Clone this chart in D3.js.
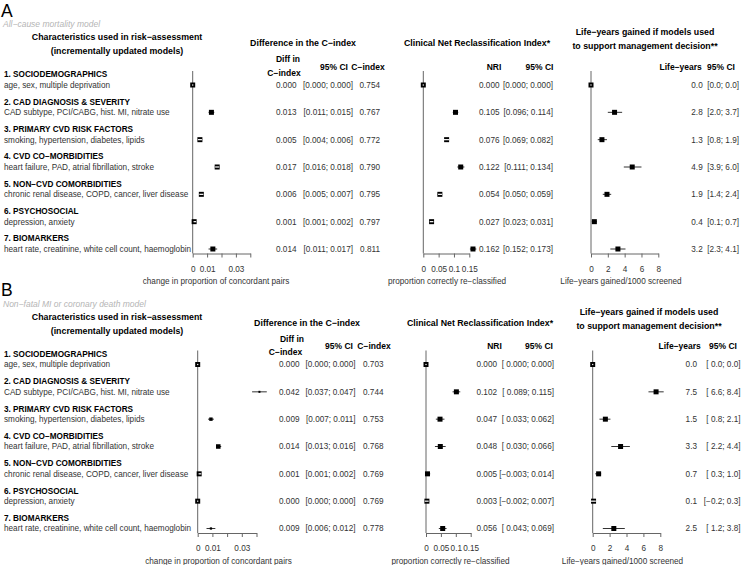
<!DOCTYPE html>
<html>
<head>
<meta charset="utf-8">
<script src="https://cdn.jsdelivr.net/npm/d3@7"></script>
<style>
  body { margin: 0; background: #fff; }
  svg text { font-family: "Liberation Sans", Arial, Helvetica, sans-serif; }
</style>
</head>
<body>
<div id="chart"></div>
<script>
// Rows: characteristic groups added to the model one at a time
const groups = ["1. SOCIODEMOGRAPHICS", "2. CAD DIAGNOSIS & SEVERITY", "3. PRIMARY CVD RISK FACTORS",
    "4. CVD CO−MORBIDITIES", "5. NON−CVD COMORBIDITIES", "6. PSYCHOSOCIAL", "7. BIOMARKERS"];
const details = ["age, sex, multiple deprivation", "CAD subtype, PCI/CABG, hist. MI, nitrate use",
    "smoking, hypertension, diabetes, lipids", "heart failure, PAD, atrial fibrillation, stroke",
    "chronic renal disease, COPD, cancer, liver disease", "depression, anxiety",
    "heart rate, creatinine, white cell count, haemoglobin"];

// Panel A - all-cause mortality
const cDiffA  = [0.000, 0.013, 0.005, 0.017, 0.006, 0.001, 0.014];
const cLowA   = [0.000, 0.011, 0.004, 0.016, 0.005, 0.001, 0.011];
const cHighA  = [0.000, 0.015, 0.006, 0.018, 0.007, 0.002, 0.017];
const cIndexA = [0.754, 0.767, 0.772, 0.790, 0.795, 0.797, 0.811];
const nriA     = [0.000, 0.105, 0.076, 0.122, 0.054, 0.027, 0.162];
const nriLowA  = [0.000, 0.096, 0.069, 0.111, 0.050, 0.023, 0.152];
const nriHighA = [0.000, 0.114, 0.082, 0.134, 0.059, 0.031, 0.173];
const lyA     = [0.0, 2.8, 1.3, 4.9, 1.9, 0.4, 3.2];
const lyLowA  = [0.0, 2.0, 0.8, 3.9, 1.4, 0.1, 2.3];
const lyHighA = [0.0, 3.7, 1.9, 6.0, 2.4, 0.7, 4.1];

// Panel B - non-fatal MI or coronary death
const cDiffB  = [0.000, 0.042, 0.009, 0.014, 0.001, 0.000, 0.009];
const cLowB   = [0.000, 0.037, 0.007, 0.013, 0.001, 0.000, 0.006];
const cHighB  = [0.000, 0.047, 0.011, 0.016, 0.002, 0.000, 0.012];
const cIndexB = [0.703, 0.744, 0.753, 0.768, 0.769, 0.769, 0.778];
const nriB     = [0.000, 0.102, 0.047, 0.048, 0.005, 0.003, 0.056];
const nriLowB  = [0.000, 0.089, 0.033, 0.030, -0.003, -0.002, 0.043];
const nriHighB = [0.000, 0.115, 0.062, 0.066, 0.014, 0.007, 0.069];
const lyB     = [0.0, 7.5, 1.5, 3.3, 0.7, 0.1, 2.5];
const lyLowB  = [0.0, 6.6, 0.8, 2.2, 0.3, -0.2, 1.2];
const lyHighB = [0.0, 8.4, 2.1, 4.4, 1.0, 0.3, 3.8];

// Axis ticks
const cTicks = [0, 0.01, 0.02, 0.03, 0.04];
const cTickLabels = ["0", "0.01", "", "0.03", ""];
const nriTicks = [0, 0.05, 0.1, 0.15];
const nriTickLabels = ["0", "0.05", "0.1", "0.15"];
const lyTicks = [0, 2, 4, 6, 8];
const lyTickLabels = ["0", "2", "4", "6", "8"];

const width = 747, height = 565;
const svg = d3.select("#chart").append("svg")
    .attr("width", width)
    .attr("height", height);

const FS = 8.2;          // body text size
const HS = 8.8;          // header size
const textCol = "#333";

// format helpers (d3.format already uses the real minus sign)
function fmt(dec) { return d3.format(`.${dec}f`); }
function ciStrings(lo, hi, dec) {
    const f = fmt(dec);
    const pad = lo.some(v => v < 0);
    return lo.map((l, i) => "[" + (pad && l >= 0 ? " " : "") + f(l) + "; " + f(hi[i]) + "]");
}

const panels = [
    {
        label: "A", subtitle: "All−cause mortality model", dy: 0,
        forests: [
            { est: cDiffA, lo: cLowA, hi: cHighA, domain: [0, 0.04], range: [192.7, 250.3],
              ticks: cTicks, tickLabels: cTickLabels, xlab: "change in proportion of concordant pairs", xlabX: 216 },
            { est: nriA, lo: nriLowA, hi: nriHighA, domain: [0, 0.15], range: [423.3, 469.3],
              ticks: nriTicks, tickLabels: nriTickLabels, xlab: "proportion correctly re−classified", xlabX: 447 },
            { est: lyA, lo: lyLowA, hi: lyHighA, domain: [0, 8], range: [591, 658.3],
              ticks: lyTicks, tickLabels: lyTickLabels, xlab: "Life−years gained/1000 screened", xlabX: 621 }
        ],
        columns: [
            { values: cDiffA.map(fmt(3)), x: 296.5 },
            { values: ciStrings(cLowA, cHighA, 3), x: 353 },
            { values: cIndexA.map(fmt(3)), x: 380 },
            { values: nriA.map(fmt(3)), x: 499.5 },
            { values: ciStrings(nriLowA, nriHighA, 3), x: 553 },
            { values: lyA.map(fmt(1)), x: 702.7 },
            { values: ciStrings(lyLowA, lyHighA, 1), x: 739 }
        ],
        titles: [
            { lines: ["Characteristics used in risk−assessment", "(incrementally updated models)"], x: 117, y: 37 },
            { lines: ["Difference in the C−index"], x: 303, y: 43 },
            { lines: ["Clinical Net Reclassification Index*"], x: 477, y: 43 },
            { lines: ["Life−years gained if models used", "to support management decision**"], x: 645, y: 32 }
        ],
        heads: [
            { t: "Diff in", x: 288, y: 59.5 }, { t: "C−index", x: 284, y: 73 },
            { t: "95% CI", x: 334, y: 67 }, { t: "C−index", x: 368, y: 67 },
            { t: "NRI", x: 494, y: 67 }, { t: "95% CI", x: 539.5, y: 67 },
            { t: "Life−years", x: 680.7, y: 67 }, { t: "95% CI", x: 721, y: 67 }
        ]
    },
    {
        label: "B", subtitle: "Non−fatal MI or coronary death model", dy: 279.5,
        forests: [
            { est: cDiffB, lo: cLowB, hi: cHighB, domain: [0, 0.04], range: [197.7, 256.5], boxK: 20,
              ticks: cTicks, tickLabels: cTickLabels, xlab: "change in proportion of concordant pairs", xlabX: 218.5 },
            { est: nriB, lo: nriLowB, hi: nriHighB, domain: [0, 0.15], range: [426, 470.7],
              ticks: nriTicks, tickLabels: nriTickLabels, xlab: "proportion correctly re−classified", xlabX: 450.5 },
            { est: lyB, lo: lyLowB, hi: lyHighB, domain: [0, 8], range: [592.7, 660.3],
              ticks: lyTicks, tickLabels: lyTickLabels, xlab: "Life−years gained/1000 screened", xlabX: 622.5 }
        ],
        columns: [
            { values: cDiffB.map(fmt(3)), x: 299.5 },
            { values: ciStrings(cLowB, cHighB, 3), x: 355.5 },
            { values: cIndexB.map(fmt(3)), x: 383.5 },
            { values: nriB.map(fmt(3)), x: 497 },
            { values: ciStrings(nriLowB, nriHighB, 3), x: 554 },
            { values: lyB.map(fmt(1)), x: 697 },
            { values: ciStrings(lyLowB, lyHighB, 1), x: 740.5 }
        ],
        titles: [
            { lines: ["Characteristics used in risk−assessment", "(incrementally updated models)"], x: 117, y: 37 },
            { lines: ["Difference in the C−index"], x: 307, y: 43 },
            { lines: ["Clinical Net Reclassification Index*"], x: 480, y: 43 },
            { lines: ["Life−years gained if models used", "to support management decision**"], x: 649, y: 32 }
        ],
        heads: [
            { t: "Diff in", x: 292, y: 59.5 }, { t: "C−index", x: 285.5, y: 73 },
            { t: "95% CI", x: 339, y: 67 }, { t: "C−index", x: 374, y: 67 },
            { t: "NRI", x: 494.5, y: 67 }, { t: "95% CI", x: 539, y: 67 },
            { t: "Life−years", x: 679.7, y: 67 }, { t: "95% CI", x: 723, y: 67 }
        ]
    }
];

panels.forEach(p => {
    const g = svg.append("g").attr("transform", `translate(0,${p.dy})`);

    // one row per characteristic group
    const y = d3.scaleLinear().domain([0, groups.length - 1]).range([85, 249]);
    const axisY = y(groups.length - 1) + 4.5;
    const lineTop = y(0) - 14;

    // panel letter and model name
    g.append("text").attr("x", 1).attr("y", 10.5).attr("dy", "0.35em")
        .attr("font-size", 17.5).text(p.label);
    g.append("text").attr("x", 3).attr("y", 24.5).attr("dy", "0.35em")
        .attr("font-size", 8.5).attr("font-style", "italic").attr("fill", "#b5b5b5")
        .text(p.subtitle);

    // column titles
    p.titles.forEach(t => {
        t.lines.forEach((line, k) => {
            g.append("text").attr("x", t.x).attr("y", t.y + k * 14).attr("dy", "0.35em")
                .attr("text-anchor", "middle").attr("font-size", HS).attr("font-weight", "bold")
                .text(line);
        });
    });
    g.selectAll(null).data(p.heads).join("text")
        .attr("x", d => d.x).attr("y", d => d.y).attr("dy", "0.35em")
        .attr("text-anchor", "middle").attr("font-size", 8.5).attr("font-weight", "bold")
        .text(d => d.t);

    // row labels
    g.selectAll(null).data(groups).join("text")
        .attr("x", 4).attr("y", (d, i) => y(i) - 10.5).attr("dy", "0.35em")
        .attr("font-size", FS).attr("font-weight", "bold")
        .text(d => d);
    g.selectAll(null).data(details).join("text")
        .attr("x", 4).attr("y", (d, i) => y(i)).attr("dy", "0.35em")
        .attr("font-size", FS).attr("fill", textCol)
        .text(d => d);

    // numeric columns
    p.columns.forEach(c => {
        g.selectAll(null).data(c.values).join("text")
            .attr("x", c.x).attr("y", (d, i) => y(i)).attr("dy", "0.35em")
            .attr("text-anchor", "end").attr("font-size", FS).attr("fill", textCol)
            .text(d => d);
    });

    // forest plots
    p.forests.forEach(f => {
        const x = d3.scaleLinear().domain(f.domain).range(f.range);
        const rows = f.est.map((e, i) => ({ e, lo: f.lo[i], hi: f.hi[i], i }));

        // line of no effect
        g.append("line")
            .attr("x1", x(0)).attr("x2", x(0))
            .attr("y1", lineTop).attr("y2", axisY)
            .attr("stroke", "#666").attr("stroke-width", 1);

        const ax = g.append("g")
            .attr("transform", `translate(0,${axisY})`)
            .call(d3.axisBottom(x)
                .tickValues(f.ticks)
                .tickFormat((d, i) => f.tickLabels[i])
                .tickSize(4)
                .tickSizeOuter(0)
                .tickPadding(8.5));
        ax.select(".domain").attr("stroke", "#666");
        ax.selectAll(".tick line").attr("stroke", "#666");
        ax.selectAll("text").attr("font-size", FS).attr("fill", textCol)
            .attr("font-family", "Liberation Sans, Arial, sans-serif");

        g.append("text").attr("x", f.xlabX).attr("y", axisY + 28).attr("dy", "0.35em")
            .attr("text-anchor", "middle").attr("font-size", FS).attr("fill", textCol)
            .text(f.xlab);

        const ciPx = d => x(d.hi) - x(d.lo);
        const side = d => f.boxK ? Math.max(2, Math.min(5, f.boxK / Math.max(ciPx(d), 0.01))) : 5;

        // confidence intervals
        g.selectAll(null).data(rows).join("line")
            .attr("x1", d => x(d.lo)).attr("x2", d => x(d.hi))
            .attr("y1", d => y(d.i)).attr("y2", d => y(d.i))
            .attr("stroke", "#333").attr("stroke-width", 1);

        // boxes
        g.selectAll(null).data(rows).join("rect")
            .attr("x", d => x(d.e) - side(d) / 2)
            .attr("y", d => y(d.i) - side(d) / 2)
            .attr("width", side).attr("height", side)
            .attr("fill", "#000");

        // interval drawn in white when it sits inside the box
        g.selectAll(null).data(rows.filter(d => ciPx(d) < side(d) - 0.6)).join("rect")
            .attr("x", d => x(d.lo) - 0.6)
            .attr("y", d => y(d.i) - 0.6)
            .attr("width", d => ciPx(d) + 1.2)
            .attr("height", 1.2)
            .attr("fill", "#fff");
    });
});
</script>
</body>
</html>
